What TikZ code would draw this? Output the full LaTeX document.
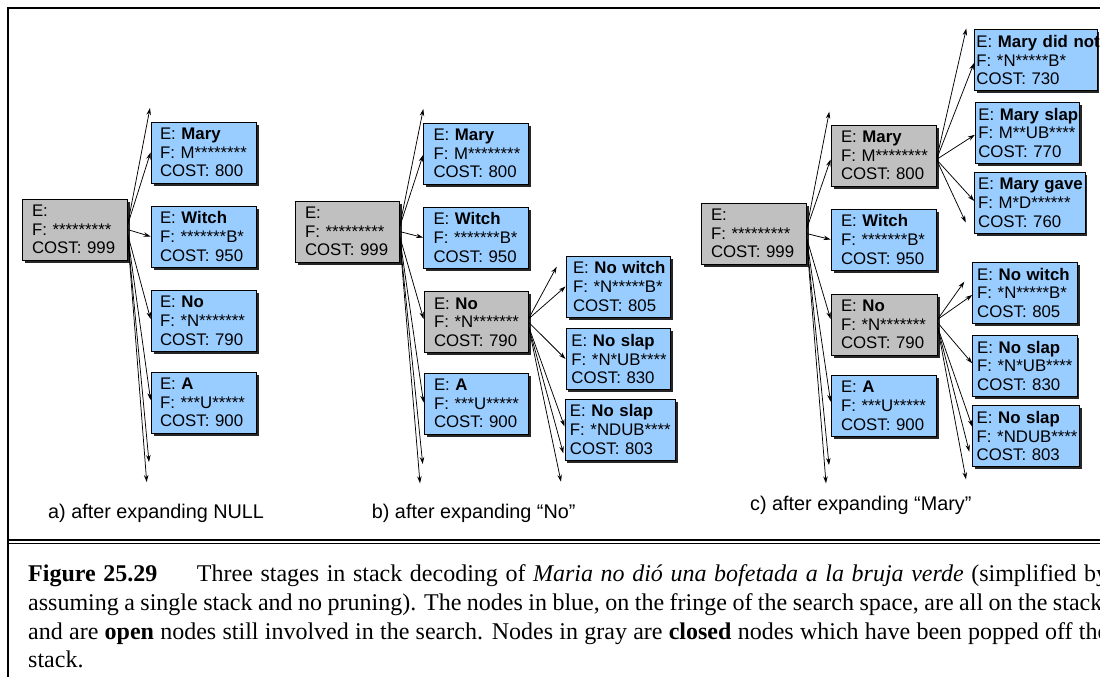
\documentclass[tikz,border=0pt]{standalone}
\usepackage{fontspec}
\setmainfont{Liberation Serif}
\newfontfamily\arialf{Liberation Sans}
\usetikzlibrary{shadows,arrows.meta}
\definecolor{boxblue}{RGB}{153,204,255}
\definecolor{boxgray}{RGB}{192,192,192}
\tikzset{
  box/.style={draw=black, line width=0.9pt, rectangle, minimum height=61pt, inner ysep=0pt, align=left,
    font=\arialf\fontsize{16.8}{18.7}\selectfont,
    drop shadow={fill=black!85, opacity=1, shadow xshift=2.5pt, shadow yshift=-2.5pt}},
  openbox/.style={box, fill=boxblue},
  closedbox/.style={box, fill=boxgray},
  arr/.style={-{Stealth[length=7pt,width=4.5pt]}, line width=0.75pt},
  lbl/.style={font=\arialf\fontsize{19.8}{22}\selectfont, anchor=base west, inner sep=0pt},
  capline/.style={font=\fontsize{24}{28.6}\selectfont, anchor=base west, inner sep=0pt},
  frame/.style={line width=2pt},
  rule/.style={line width=1.3pt},
}
% style, name, cx, cy, width, left padding, three lines
\newcommand\bx[9]{%
  \pgfmathsetmacro\tw{#5-2*#6}%
  \node[#1, minimum width=#5pt, text width=\tw pt, inner xsep=#6pt] (#2) at (#3,#4)
    {\mbox{#7}\\\mbox{#8}\\\mbox{#9}};}
\begin{document}
\begin{tikzpicture}[x=1pt,y=-1pt]
\useasboundingbox (0,0) rectangle (1100,677);
\clip (0,0) rectangle (1100,677);
% frame
\draw[frame] (7.5,677) -- (7.5,8.5) -- (1100,8.5);
\draw[rule] (7.5,540) -- (1100,540);
\draw[rule] (7.5,543.8) -- (1100,543.8);

% ---------- panel a ----------
\bx{closedbox}{ra}{74.5}{229.5}{105}{10}{E:}{F: *********}{COST: 999}
\bx{openbox}{ma}{203.5}{152.5}{105}{9}{E: \textbf{Mary}}{F: M********}{COST: 800}
\bx{openbox}{wa}{203.5}{236.5}{105}{9}{E: \textbf{Witch}}{F: *******B*}{COST: 950}
\bx{openbox}{na}{203.5}{321}{105}{9}{E: \textbf{No}}{F: *N*******}{COST: 790}
\bx{openbox}{aa}{203.5}{402.5}{105}{9}{E: \textbf{A}}{F: ***U*****}{COST: 900}
\coordinate (ua) at (150,108);
\coordinate (da1) at (149,462);
\coordinate (da2) at (146.7,482);
\draw[arr] ([yshift=4pt]ra.east) -- (ua);
\draw[arr] ([yshift=4pt]ra.east) -- (ma.west);
\draw[arr] (ra.east) -- (wa.west);
\draw[arr] ([yshift=-4pt]ra.east) -- ([yshift=2pt]na.west);
\draw[arr] ([yshift=-4pt]ra.east) -- ([yshift=2.5pt]aa.west);
\draw[arr] ([yshift=-4pt]ra.east) -- (da1);
\draw[arr] ([yshift=-4pt]ra.east) -- (da2);
\node[lbl] (la) at (48,518) {a) after expanding NULL};

% ---------- panel b ----------
\bx{closedbox}{rb}{347}{231.5}{104}{10}{E:}{F: *********}{COST: 999}
\bx{openbox}{mb}{476}{153.5}{105}{10}{E: \textbf{Mary}}{F: M********}{COST: 800}
\bx{openbox}{wb}{476}{237.5}{105}{10}{E: \textbf{Witch}}{F: *******B*}{COST: 950}
\bx{closedbox}{nb}{476}{322}{104}{10}{E: \textbf{No}}{F: *N*******}{COST: 790}
\bx{openbox}{ab}{476}{403.5}{104}{10}{E: \textbf{A}}{F: ***U*****}{COST: 900}
\bx{openbox}{nwb}{618}{286.5}{104}{7}{E: \textbf{No witch}}{F: *N*****B*}{COST: 805}
\bx{openbox}{nsb}{618.2}{359}{104.5}{5.5}{E: \textbf{No slap}}{F: *N*UB****}{COST: 830}
\bx{openbox}{ndb}{620.2}{429.5}{110.5}{5}{E: \textbf{No slap}}{F: *NDUB****}{COST: 803}
\coordinate (ub) at (423.3,109);
\coordinate (db1) at (422.7,464);
\coordinate (db2) at (420,483.3);
\coordinate (unb) at (556.7,266.7);
\coordinate (dnb1) at (563.3,453.3);
\coordinate (dnb2) at (561,481.7);
\draw[arr] ([yshift=4pt]rb.east) -- (ub);
\draw[arr] ([yshift=4pt]rb.east) -- ([yshift=-1.5pt]mb.west);
\draw[arr] (rb.east) -- (wb.west);
\draw[arr] ([yshift=-4pt]rb.east) -- ([yshift=3pt]nb.west);
\draw[arr] ([yshift=-4pt]rb.east) -- ([yshift=1pt]ab.west);
\draw[arr] ([yshift=-4pt]rb.east) -- (db1);
\draw[arr] ([yshift=-4pt]rb.east) -- (db2);
\draw[arr] ([yshift=3pt]nb.east) -- (unb);
\draw[arr] ([yshift=3pt]nb.east) -- (nwb.west);
\draw[arr] (nb.east) -- (nsb.west);
\draw[arr] ([yshift=-4pt]nb.east) -- ([yshift=3pt]ndb.west);
\draw[arr] ([yshift=-4pt]nb.east) -- (dnb1);
\draw[arr] ([yshift=-4pt]nb.east) -- (dnb2);
\node[lbl] (lb) at (371.7,518.3) {b) after expanding “No”};

% ---------- panel c ----------
\bx{closedbox}{rc}{753.5}{233.5}{105}{10}{E:}{F: *********}{COST: 999}
\bx{closedbox}{mc}{883.5}{155.5}{105}{10}{E: \textbf{Mary}}{F: M********}{COST: 800}
\bx{openbox}{wc}{883.5}{239.5}{105}{10}{E: \textbf{Witch}}{F: *******B*}{COST: 950}
\bx{closedbox}{nc}{884}{324.5}{106}{10}{E: \textbf{No}}{F: *N*******}{COST: 790}
\bx{openbox}{ac}{883.5}{405.7}{105}{10}{E: \textbf{A}}{F: ***U*****}{COST: 900}
\bx{openbox}{mdn}{1035.7}{60}{122.5}{2}{E: \textbf{Mary did not}}{F: *N*****B*}{COST: 730}
\bx{openbox}{ms}{1027.3}{132.8}{104}{3}{E: \textbf{Mary slap}}{F: M**UB****}{COST: 770}
\bx{openbox}{mg}{1029.8}{203}{110.3}{3.5}{E: \textbf{Mary gave}}{F: M*D******}{COST: 760}
\bx{openbox}{nwc}{1025}{292.7}{104.6}{4.5}{E: \textbf{No witch}}{F: *N*****B*}{COST: 805}
\bx{openbox}{nsc}{1024.8}{365.8}{104.3}{4.5}{E: \textbf{No slap}}{F: *N*UB****}{COST: 830}
\bx{openbox}{ndc}{1026}{436.2}{106.6}{4}{E: \textbf{No slap}}{F: *NDUB****}{COST: 803}
\coordinate (uc) at (829.3,111.7);
\coordinate (dc1) at (829,465);
\coordinate (dc2) at (826,483.3);
\coordinate (umc) at (966.3,28.5);
\coordinate (dmc) at (965.8,222.5);
\coordinate (unc) at (964.3,281.7);
\coordinate (dnc1) at (969.3,451.7);
\coordinate (dnc2) at (966,479.3);
\draw[arr] ([yshift=4pt]rc.east) -- (uc);
\draw[arr] ([yshift=4pt]rc.east) -- ([yshift=-4pt]mc.west);
\draw[arr] (rc.east) -- (wc.west);
\draw[arr] ([yshift=-4pt]rc.east) -- ([yshift=5.5pt]nc.west);
\draw[arr] ([yshift=-4pt]rc.east) -- ([yshift=4pt]ac.west);
\draw[arr] ([yshift=-4pt]rc.east) -- (dc1);
\draw[arr] ([yshift=-4pt]rc.east) -- (dc2);
\draw[arr] ([yshift=-4pt]mc.east) -- (umc);
\draw[arr] ([yshift=-4pt]mc.east) -- ([yshift=-3pt]mdn.west);
\draw[arr] ([yshift=-4pt]mc.east) -- ([yshift=-2pt]ms.west);
\draw[arr] ([yshift=-4pt]mc.east) -- ([yshift=2pt]mg.west);
\draw[arr] ([yshift=-4pt]mc.east) -- (dmc);
\draw[arr] ([yshift=5pt]nc.east) -- (unc);
\draw[arr] ([yshift=5pt]nc.east) -- ([yshift=-2.3pt]nwc.west);
\draw[arr] ([yshift=2pt]nc.east) -- ([yshift=2.5pt]nsc.west);
\draw[arr] ([yshift=-2pt]nc.east) -- ([yshift=9.5pt]ndc.west);
\draw[arr] ([yshift=-2pt]nc.east) -- (dnc1);
\draw[arr] ([yshift=-2pt]nc.east) -- (dnc2);
\node[lbl] (lc) at (750,510) {c) after expanding “Mary”};

% ---------- caption ----------
\node[capline] (cap1) at (28,581.7) {\makebox[1080pt][s]{\textbf{Figure 25.29}\hspace{1.65em}Three stages in stack decoding of \textit{Maria no dió una bofetada a la bruja verde} (simplified by}};
\node[capline] (cap2) at (28,610) {\makebox[1074pt][s]{assuming a single stack and no pruning). The nodes in blue, on the fringe of the search space, are all on the stack}};
\node[capline] (cap3) at (28,639.3) {\makebox[1080pt][s]{and are \textbf{open} nodes still involved in the search. Nodes in gray are \textbf{closed} nodes which have been popped off the}};
\node[capline] (cap4) at (28,667.3) {stack.};
\end{tikzpicture}
\end{document}
